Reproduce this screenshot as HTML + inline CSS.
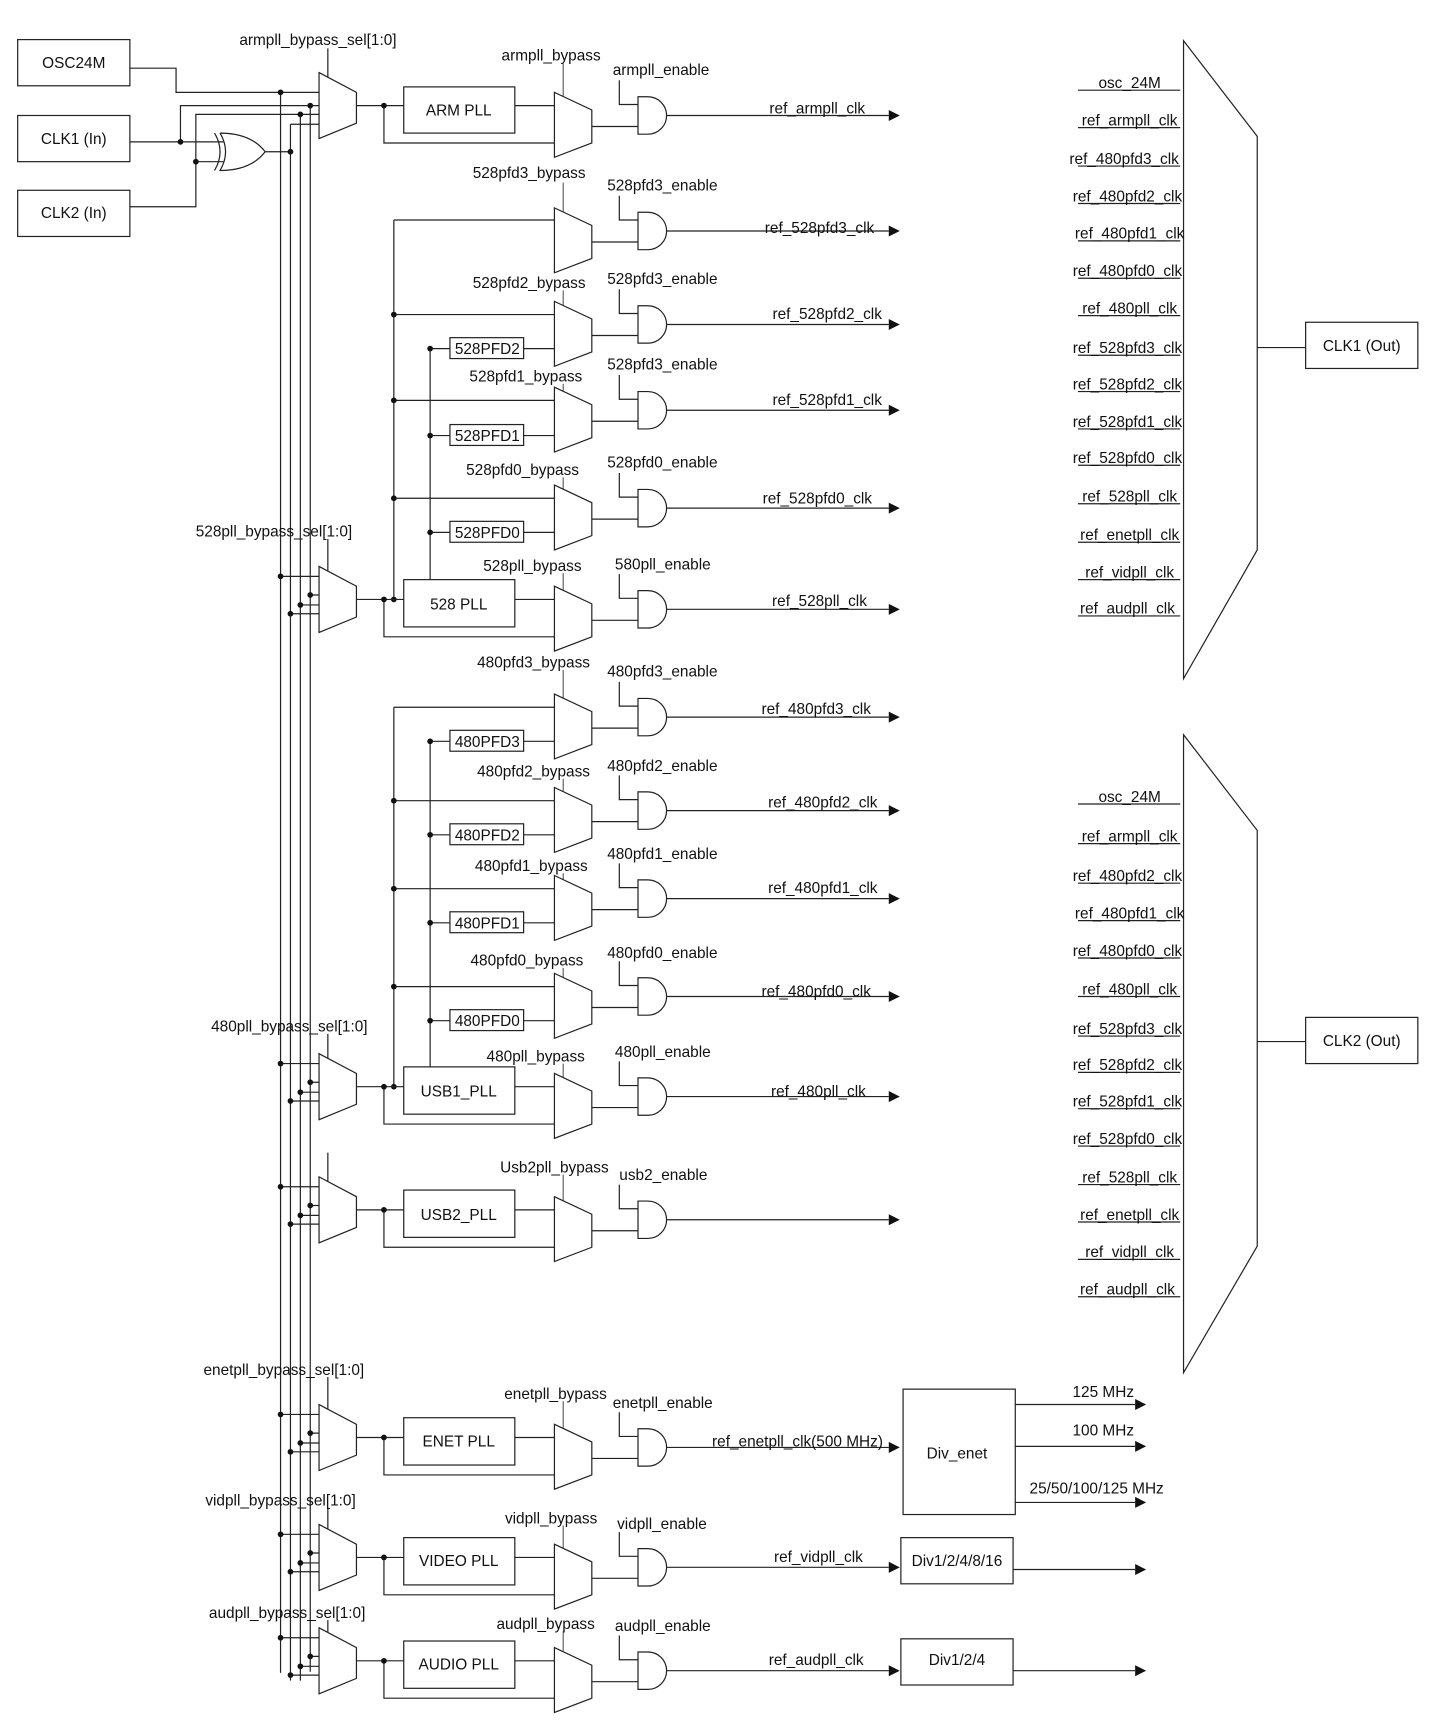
<!DOCTYPE html>
<html><head><meta charset="utf-8"><style>
html,body{margin:0;padding:0;background:#fff}
svg{display:block}
text{font-family:"Liberation Sans",Arial,sans-serif;font-size:14px;fill:#111}
</style></head><body>
<svg width="1452" height="1729" viewBox="0 0 1320 1572" xmlns="http://www.w3.org/2000/svg">
<defs>
<g id="bm" fill="none" stroke="#222" stroke-width="1.1">
<polygon points="504,-21 538,-5 538,25 504,38" fill="#fff"/>
<path d="M538,10H580M563,-32V-10H580"/>
<path d="M580,-17H589A17,17 0 0 1 589,17H580Z" fill="#fff"/>
<path d="M606,0H808"/>
<polygon points="808,-5 818,0 808,5" fill="#111" stroke="none"/>
</g>
<g id="pr" fill="none" stroke="#222" stroke-width="1.1">
<polygon points="290,0 324,18 324,46 290,60" fill="#fff"/>
<path d="M324,30H367M468,30H504M349,30V64H504M255,9H290M282,26H290M273,35H290M264,43H290"/>
<rect x="367" y="12" width="101" height="43" fill="#fff"/>
<g fill="#111" stroke="none"><circle cx="349" cy="30" r="2.6"/><circle cx="255" cy="9" r="2.6"/><circle cx="282" cy="26" r="2.6"/><circle cx="273" cy="35" r="2.6"/><circle cx="264" cy="43" r="2.6"/></g>
</g>
</defs>

<g fill="none" stroke="#222" stroke-width="1.1">
<!-- input boxes -->
<rect x="16" y="36" width="102" height="42"/>
<rect x="16" y="105" width="102" height="42"/>
<rect x="16" y="173" width="102" height="42"/>
<path d="M118,62H160V84H290M118,129H203M164,129V96H290M118,188H178V147H203M178,147V104H290M241,138H264M264,113H290"/>
<path d="M195,121Q205,138 195,155M200,121Q210,138 200,155Q228,155 241,138Q228,121 200,121"/>
<!-- bus -->
<path d="M255,84V1521M264,113V1528M273,104V1528M282,96V1520"/>
<!-- ARM sel mux -->
<polygon points="290,66 324,84 324,112 290,126" fill="#fff"/>
<path d="M324,96H367M468,96H504M349,96V130H504M298,44V70"/>
<rect x="367" y="79" width="101" height="42"/>
<!-- sel label lines -->
<path d="M298,490V519M298,940V964M298,1048V1074M298,1252V1281M298,1371V1390M298,1473V1484"/>
<!-- 528 trunks -->
<path d="M358,200H504M358,200V545M358,286H504M358,364H504M358,453H504M391,317V527M391,317H409M476,317H504M391,396H409M476,396H504M391,484H409M476,484H504"/>
<rect x="409" y="307" width="67" height="19"/><rect x="409" y="386" width="67" height="19"/><rect x="409" y="474" width="67" height="19"/>
<!-- 480 trunks -->
<path d="M358,643H504M358,643V988M358,728H504M358,808H504M358,897H504M391,674V972M391,674H409M476,674H504M391,759H409M476,759H504M391,839H409M476,839H504M391,928H409M476,928H504"/>
<rect x="409" y="664" width="67" height="19"/><rect x="409" y="749" width="67" height="19"/><rect x="409" y="829" width="67" height="19"/><rect x="409" y="918" width="67" height="19"/>
<!-- bypass select lines -->
<path stroke="#666" d="M512,58V88M512,166V193M512,264V278M512,349V356M512,434V445M512,521V537M512,609V635M512,708V720M512,794V800M512,880V889M512,967V981M512,1068V1092M512,1274V1299M512,1387V1408M512,1483V1501"/>
</g>
<g fill="#111">
<circle cx="349" cy="96" r="2.6"/><circle cx="255" cy="84" r="2.6"/><circle cx="282" cy="96" r="2.6"/><circle cx="273" cy="104" r="2.6"/><circle cx="264" cy="138" r="2.6"/><circle cx="164" cy="129" r="2.6"/><circle cx="178" cy="147" r="2.6"/>
<circle cx="358" cy="545" r="2.6"/><circle cx="358" cy="286" r="2.6"/><circle cx="358" cy="364" r="2.6"/><circle cx="358" cy="453" r="2.6"/>
<circle cx="391" cy="317" r="2.6"/><circle cx="391" cy="396" r="2.6"/><circle cx="391" cy="484" r="2.6"/>
<circle cx="358" cy="988" r="2.6"/><circle cx="358" cy="728" r="2.6"/><circle cx="358" cy="808" r="2.6"/><circle cx="358" cy="897" r="2.6"/>
<circle cx="391" cy="674" r="2.6"/><circle cx="391" cy="759" r="2.6"/><circle cx="391" cy="839" r="2.6"/><circle cx="391" cy="928" r="2.6"/>
</g>

<use href="#pr" transform="translate(0,515)"/>
<use href="#pr" transform="translate(0,958)"/>
<use href="#pr" transform="translate(0,1070)"/>
<use href="#pr" transform="translate(0,1277)"/>
<use href="#pr" transform="translate(0,1386)"/>
<use href="#pr" transform="translate(0,1480)"/>

<use href="#bm" transform="translate(0,105)"/>
<use href="#bm" transform="translate(0,210)"/>
<use href="#bm" transform="translate(0,295)"/>
<use href="#bm" transform="translate(0,373)"/>
<use href="#bm" transform="translate(0,462)"/>
<use href="#bm" transform="translate(0,554)"/>
<use href="#bm" transform="translate(0,652)"/>
<use href="#bm" transform="translate(0,737)"/>
<use href="#bm" transform="translate(0,817)"/>
<use href="#bm" transform="translate(0,906)"/>
<use href="#bm" transform="translate(0,997)"/>
<use href="#bm" transform="translate(0,1109)"/>
<use href="#bm" transform="translate(0,1316)"/>
<use href="#bm" transform="translate(0,1425)"/>
<use href="#bm" transform="translate(0,1519)"/>

<!-- right side -->
<g fill="none" stroke="#222" stroke-width="1.1">
<polygon points="1076,37 1143,124 1143,500 1076,617"/>
<path d="M1143,316H1187"/><rect x="1187" y="293" width="102" height="42"/>
<polygon points="1076,668 1143,755 1143,1133 1076,1248"/>
<path d="M1143,947H1187"/><rect x="1187" y="925" width="102" height="42"/>
<path d="M980,82H1073M980,116H1073M980,151H1073M980,185H1073M980,219H1073M980,253H1073M980,287H1073M980,323H1073M980,356H1073M980,390H1073M980,423H1073M980,458H1073M980,493H1073M980,527H1073M980,560H1073"/>
<path d="M980,731H1073M980,767H1073M980,803H1073M980,837H1073M980,871H1073M980,906H1073M980,942H1073M980,975H1073M980,1008H1073M980,1042H1073M980,1077H1073M980,1111H1073M980,1145H1073M980,1179H1073"/>
<rect x="821" y="1263" width="102" height="114"/>
<rect x="819" y="1398" width="102" height="42"/>
<rect x="819" y="1490" width="102" height="42"/>
<path d="M923,1277H1032M923,1315H1032M923,1366H1032M921,1427H1032M921,1519H1032"/>
</g>
<g fill="#111">
<polygon points="1032,1272 1042,1277 1032,1282"/><polygon points="1032,1310 1042,1315 1032,1320"/><polygon points="1032,1361 1042,1366 1032,1371"/><polygon points="1032,1422 1042,1427 1032,1432"/><polygon points="1032,1514 1042,1519 1032,1524"/>
</g>

<g>
<text x="67" y="62" text-anchor="middle">OSC24M</text>
<text x="67" y="131" text-anchor="middle">CLK1 (In)</text>
<text x="67" y="198" text-anchor="middle">CLK2 (In)</text>
<text x="417" y="105" text-anchor="middle">ARM PLL</text>
<text x="417" y="554" text-anchor="middle">528 PLL</text>
<text x="417" y="997" text-anchor="middle">USB1_PLL</text>
<text x="417" y="1109" text-anchor="middle">USB2_PLL</text>
<text x="417" y="1315" text-anchor="middle">ENET PLL</text>
<text x="417" y="1424" text-anchor="middle">VIDEO PLL</text>
<text x="417" y="1518" text-anchor="middle">AUDIO PLL</text>
<text x="443" y="322" text-anchor="middle">528PFD2</text>
<text x="443" y="401" text-anchor="middle">528PFD1</text>
<text x="443" y="489" text-anchor="middle">528PFD0</text>
<text x="443" y="679" text-anchor="middle">480PFD3</text>
<text x="443" y="764" text-anchor="middle">480PFD2</text>
<text x="443" y="844" text-anchor="middle">480PFD1</text>
<text x="443" y="933" text-anchor="middle">480PFD0</text>

<text x="289" y="41" text-anchor="middle">armpll_bypass_sel[1:0]</text>
<text x="249" y="488" text-anchor="middle">528pll_bypass_sel[1:0]</text>
<text x="263" y="938" text-anchor="middle">480pll_bypass_sel[1:0]</text>
<text x="258" y="1250" text-anchor="middle">enetpll_bypass_sel[1:0]</text>
<text x="255" y="1369" text-anchor="middle">vidpll_bypass_sel[1:0]</text>
<text x="261" y="1471" text-anchor="middle">audpll_bypass_sel[1:0]</text>

<text x="501" y="55" text-anchor="middle">armpll_bypass</text>
<text x="481" y="162" text-anchor="middle">528pfd3_bypass</text>
<text x="481" y="262" text-anchor="middle">528pfd2_bypass</text>
<text x="478" y="347" text-anchor="middle">528pfd1_bypass</text>
<text x="475" y="432" text-anchor="middle">528pfd0_bypass</text>
<text x="484" y="519" text-anchor="middle">528pll_bypass</text>
<text x="485" y="607" text-anchor="middle">480pfd3_bypass</text>
<text x="485" y="706" text-anchor="middle">480pfd2_bypass</text>
<text x="483" y="792" text-anchor="middle">480pfd1_bypass</text>
<text x="479" y="878" text-anchor="middle">480pfd0_bypass</text>
<text x="487" y="965" text-anchor="middle">480pll_bypass</text>
<text x="504" y="1066" text-anchor="middle">Usb2pll_bypass</text>
<text x="505" y="1272" text-anchor="middle">enetpll_bypass</text>
<text x="501" y="1385" text-anchor="middle">vidpll_bypass</text>
<text x="496" y="1481" text-anchor="middle">audpll_bypass</text>

<text x="557" y="68">armpll_enable</text>
<text x="552" y="173">528pfd3_enable</text>
<text x="552" y="258">528pfd3_enable</text>
<text x="552" y="336">528pfd3_enable</text>
<text x="552" y="425">528pfd0_enable</text>
<text x="559" y="518">580pll_enable</text>
<text x="552" y="615">480pfd3_enable</text>
<text x="552" y="701">480pfd2_enable</text>
<text x="552" y="781">480pfd1_enable</text>
<text x="552" y="871">480pfd0_enable</text>
<text x="559" y="961">480pll_enable</text>
<text x="563" y="1073">usb2_enable</text>
<text x="557" y="1280">enetpll_enable</text>
<text x="561" y="1390">vidpll_enable</text>
<text x="559" y="1483">audpll_enable</text>

<text x="743" y="103" text-anchor="middle">ref_armpll_clk</text>
<text x="745" y="212" text-anchor="middle">ref_528pfd3_clk</text>
<text x="752" y="290" text-anchor="middle">ref_528pfd2_clk</text>
<text x="752" y="368" text-anchor="middle">ref_528pfd1_clk</text>
<text x="743" y="458" text-anchor="middle">ref_528pfd0_clk</text>
<text x="745" y="551" text-anchor="middle">ref_528pll_clk</text>
<text x="742" y="649" text-anchor="middle">ref_480pfd3_clk</text>
<text x="748" y="734" text-anchor="middle">ref_480pfd2_clk</text>
<text x="748" y="812" text-anchor="middle">ref_480pfd1_clk</text>
<text x="742" y="906" text-anchor="middle">ref_480pfd0_clk</text>
<text x="744" y="997" text-anchor="middle">ref_480pll_clk</text>
<text x="725" y="1315" text-anchor="middle">ref_enetpll_clk(500 MHz)</text>
<text x="744" y="1420" text-anchor="middle">ref_vidpll_clk</text>
<text x="742" y="1514" text-anchor="middle">ref_audpll_clk</text>

<text x="870" y="1326" text-anchor="middle">Div_enet</text>
<text x="870" y="1424" text-anchor="middle">Div1/2/4/8/16</text>
<text x="870" y="1514" text-anchor="middle">Div1/2/4</text>
<text x="1003" y="1270" text-anchor="middle">125 MHz</text>
<text x="1003" y="1305" text-anchor="middle">100 MHz</text>
<text x="997" y="1358" text-anchor="middle">25/50/100/125 MHz</text>

<text x="1238" y="319" text-anchor="middle">CLK1 (Out)</text>
<text x="1238" y="951" text-anchor="middle">CLK2 (Out)</text>
</g>
<g text-anchor="middle">
<text x="1027" y="80">osc_24M</text>
<text x="1027" y="114">ref_armpll_clk</text>
<text x="1022" y="149">ref_480pfd3_clk</text>
<text x="1025" y="183">ref_480pfd2_clk</text>
<text x="1027" y="217">ref_480pfd1_clk</text>
<text x="1025" y="251">ref_480pfd0_clk</text>
<text x="1027" y="285">ref_480pll_clk</text>
<text x="1025" y="321">ref_528pfd3_clk</text>
<text x="1025" y="354">ref_528pfd2_clk</text>
<text x="1025" y="388">ref_528pfd1_clk</text>
<text x="1025" y="421">ref_528pfd0_clk</text>
<text x="1027" y="456">ref_528pll_clk</text>
<text x="1027" y="491">ref_enetpll_clk</text>
<text x="1027" y="525">ref_vidpll_clk</text>
<text x="1025" y="558">ref_audpll_clk</text>

<text x="1027" y="729">osc_24M</text>
<text x="1027" y="765">ref_armpll_clk</text>
<text x="1025" y="801">ref_480pfd2_clk</text>
<text x="1027" y="835">ref_480pfd1_clk</text>
<text x="1025" y="869">ref_480pfd0_clk</text>
<text x="1027" y="904">ref_480pll_clk</text>
<text x="1025" y="940">ref_528pfd3_clk</text>
<text x="1025" y="973">ref_528pfd2_clk</text>
<text x="1025" y="1006">ref_528pfd1_clk</text>
<text x="1025" y="1040">ref_528pfd0_clk</text>
<text x="1027" y="1075">ref_528pll_clk</text>
<text x="1027" y="1109">ref_enetpll_clk</text>
<text x="1027" y="1143">ref_vidpll_clk</text>
<text x="1025" y="1177">ref_audpll_clk</text>
</g>
</svg>
</body></html>
